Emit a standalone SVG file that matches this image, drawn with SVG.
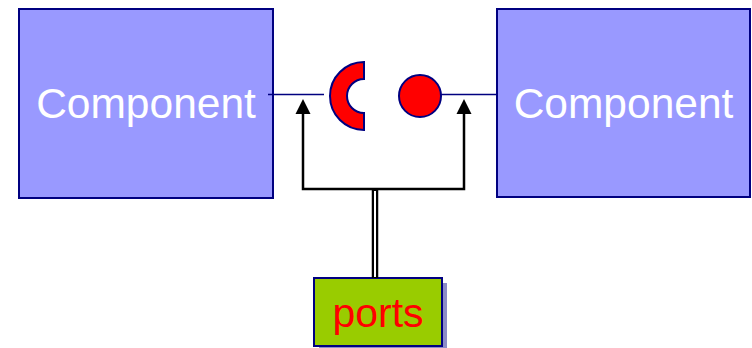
<svg xmlns="http://www.w3.org/2000/svg" width="752" height="348" viewBox="0 0 752 348">
  <defs>
    <style>
      .comp { fill: #9999ff; stroke: #000080; stroke-width: 2; }
      .comp-label { font-family: "Liberation Sans", Arial, sans-serif; font-size: 42.5px; fill: #ffffff; text-anchor: middle; }
      .wire { stroke: #000080; stroke-width: 1.6; fill: none; }
      .port { fill: #ff0000; stroke: #000080; stroke-width: 2; }
      .pointer { stroke: #000000; stroke-width: 2.5; fill: none; }
      .ports-box { fill: #99cc00; stroke: #000080; stroke-width: 2; }
      .ports-label { font-family: "Liberation Sans", Arial, sans-serif; font-size: 41px; fill: #ff0000; text-anchor: middle; }
    </style>
  </defs>

  <rect width="752" height="348" fill="#ffffff"/>

  <g id="component-left">
    <rect class="comp" x="19" y="9" width="254" height="189"/>
    <text class="comp-label" x="146" y="118">Component</text>
  </g>

  <g id="component-right">
    <rect class="comp" x="497" y="9" width="253" height="188"/>
    <text class="comp-label" x="623.5" y="118">Component</text>
  </g>

  <g id="required-port">
    <path class="port" d="M364,62 A34,34 0 0 0 364,130 L364,113 A17,17 0 0 1 364,79 Z"/>
  </g>

  <g id="provided-port">
    <circle class="port" cx="420" cy="96" r="21"/>
  </g>

  <g id="ports-note">
    <rect x="319" y="283" width="128" height="68" fill="#8c8cc8"/>
    <rect class="ports-box" x="314" y="278" width="128" height="68"/>
    <text class="ports-label" x="378" y="327">ports</text>
  </g>

  <g id="connectors">
    <line class="wire" x1="268" y1="94.5" x2="324" y2="94.5"/>
    <line class="wire" x1="441" y1="94.5" x2="496" y2="94.5"/>
    <!-- double stem from the ports note up to the bar -->
    <line x1="375" y1="278" x2="375" y2="189" stroke="#000000" stroke-width="6.5"/>
    <line x1="375" y1="277" x2="375" y2="191" stroke="#ffffff" stroke-width="2"/>
    <path class="pointer" d="M303,114 L303,189 L464,189 L464,114"/>
    <path d="M295.5,114 L303,99 L310.5,114 Z" fill="#000000"/>
    <path d="M456.5,114 L464,99 L471.5,114 Z" fill="#000000"/>
  </g>
</svg>
